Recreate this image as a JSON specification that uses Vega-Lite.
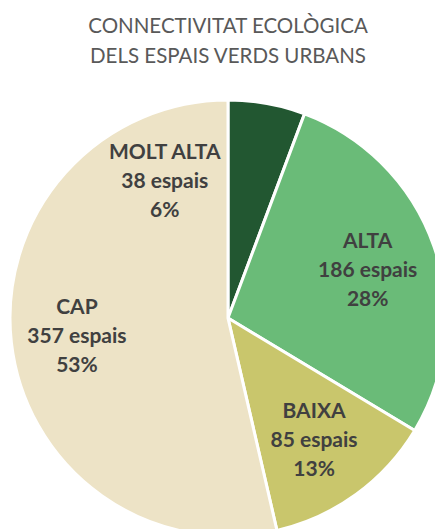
{
  "$schema": "https://vega.github.io/schema/vega-lite/v6.json",
  "autosize": "none",
  "width": 414,
  "height": 420,
  "padding": {"left": 21, "top": 108, "right": 0, "bottom": 1},
  "background": "white",
  "title": {
    "text": ["CONNECTIVITAT ECOLÒGICA", "DELS ESPAIS VERDS URBANS"],
    "anchor": "middle",
    "frame": "group",
    "font": "Lato",
    "fontSize": 20.5,
    "fontWeight": "normal",
    "color": "#595959",
    "lineHeight": 30,
    "offset": 27
  },
  "data": {
    "values": [
      {"categoria": "MOLT ALTA", "espais": 38, "pct": 6, "ordre": 1},
      {"categoria": "ALTA", "espais": 186, "pct": 28, "ordre": 2},
      {"categoria": "BAIXA", "espais": 85, "pct": 13, "ordre": 3},
      {"categoria": "CAP", "espais": 357, "pct": 53, "ordre": 4}
    ]
  },
  "transform": [
    {"stack": "espais", "groupby": [], "sort": [{"field": "ordre", "order": "ascending"}], "as": ["t0", "t1"]},
    {"calculate": "(datum.t0 + datum.t1) / 2", "as": "tm"},
    {"calculate": "[datum.categoria, datum.espais + ' espais', datum.pct + '%']", "as": "etiqueta"}
  ],
  "layer": [
    {
      "mark": {"type": "arc", "outerRadius": 218, "stroke": "white", "strokeWidth": 3},
      "encoding": {
        "theta": {"field": "t0", "type": "quantitative", "scale": {"domain": [0, 666]}},
        "theta2": {"field": "t1"},
        "color": {
          "field": "categoria",
          "type": "nominal",
          "scale": {
            "domain": ["MOLT ALTA", "ALTA", "BAIXA", "CAP"],
            "range": ["#225731", "#6abb78", "#c9c66c", "#ede3c6"]
          },
          "legend": null
        }
      }
    },
    {
      "transform": [{"filter": "datum.categoria != 'MOLT ALTA'"}],
      "mark": {"type": "text", "radius": 150, "font": "Lato", "fontSize": 21, "fontWeight": "bold", "lineHeight": 29, "baseline": "middle", "align": "center", "dy": -27, "dx": -2},
      "encoding": {
        "theta": {"field": "tm", "type": "quantitative", "scale": {"domain": [0, 666]}},
        "text": {"field": "etiqueta"},
        "color": {"value": "#404040"}
      }
    },
    {
      "transform": [{"filter": "datum.categoria == 'MOLT ALTA'"}],
      "mark": {"type": "text", "radius": 150, "font": "Lato", "fontSize": 21, "fontWeight": "bold", "lineHeight": 29, "baseline": "middle", "align": "center", "dx": -90, "dy": -17},
      "encoding": {
        "theta": {"field": "tm", "type": "quantitative", "scale": {"domain": [0, 666]}},
        "text": {"field": "etiqueta"},
        "color": {"value": "#404040"}
      }
    }
  ],
  "config": {"view": {"stroke": null}}
}
